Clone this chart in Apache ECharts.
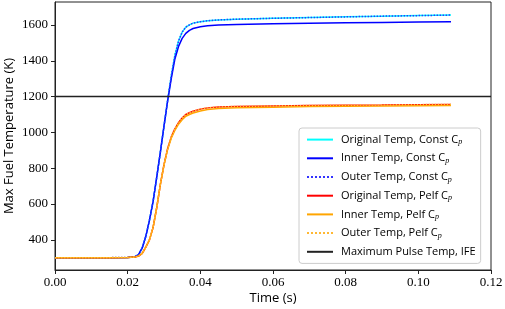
<!DOCTYPE html>
<html>
<head>
<meta charset="utf-8">
<script src="https://cdn.jsdelivr.net/npm/echarts@6/dist/echarts.min.js"></script>
<style>html,body{margin:0;padding:0;background:#fff}#c{width:505px;height:309px}</style>
</head>
<body>
<div id="c"></div>
<script>
const times = [0, 0.005, 0.01, 0.015, 0.02, 0.022, 0.023, 0.024, 0.025, 0.026, 0.027, 0.028, 0.029, 0.030, 0.031, 0.032, 0.033, 0.034, 0.035, 0.036, 0.037, 0.038, 0.040, 0.042, 0.045, 0.05, 0.06, 0.07, 0.08, 0.09, 0.1, 0.109];
const originalConst = [300, 300, 300, 301, 302, 306, 318, 355, 420, 510, 615, 750, 890, 1035, 1180, 1315, 1430, 1510, 1560, 1588, 1600, 1610, 1618, 1623, 1628, 1632, 1637, 1641, 1645, 1649, 1652, 1655];
const innerConst    = [300, 300, 300, 301, 302, 306, 318, 355, 420, 510, 615, 750, 890, 1035, 1175, 1300, 1410, 1480, 1525, 1553, 1570, 1580, 1590, 1595, 1600, 1603, 1607, 1610, 1612, 1614, 1616, 1618];
const outerConst    = [300, 300, 300, 301, 302, 306, 318, 355, 420, 510, 615, 750, 890, 1035, 1180, 1315, 1430, 1510, 1560, 1588, 1600, 1610, 1618, 1623, 1628, 1632, 1637, 1641, 1645, 1649, 1652, 1655];
const originalPelf  = [300, 300, 300, 301, 302, 304, 310, 325, 360, 400, 470, 580, 710, 820, 910, 975, 1020, 1055, 1080, 1100, 1110, 1118, 1130, 1137, 1142, 1145, 1148, 1150, 1152, 1153, 1155, 1156];
const innerPelf     = [300, 300, 300, 301, 302, 304, 310, 325, 360, 400, 470, 580, 710, 818, 905, 968, 1012, 1046, 1071, 1090, 1100, 1108, 1120, 1128, 1134, 1138, 1141, 1144, 1146, 1147, 1149, 1150];
const outerPelf     = [300, 300, 300, 301, 302, 304, 310, 325, 360, 400, 470, 580, 710, 820, 910, 975, 1020, 1055, 1080, 1100, 1110, 1118, 1130, 1137, 1142, 1145, 1148, 1150, 1152, 1153, 1155, 1156];
const limitTimes = [0, 0.12];
const limitTemps = [1200, 1200];
const yTicks = [400, 600, 800, 1000, 1200, 1400, 1600];

const names = [
  'Original Temp, Const C',
  'Inner Temp, Const C',
  'Outer Temp, Const C',
  'Original Temp, Pelf C',
  'Inner Temp, Pelf C',
  'Outer Temp, Pelf C',
  'Maximum Pulse Temp, IFE'
];

function pairs(xs, ys) { return xs.map((x, i) => [x, ys[i]]); }
function mk(name, xs, ys, color, type) {
  return {
    name, type: 'line', data: pairs(xs, ys), showSymbol: false, symbol: 'none',
    lineStyle: { color, width: 1.5, type: type || 'solid' }, itemStyle: { color },
    animation: false, z: 2
  };
}

const chart = echarts.init(document.getElementById('c'), null, { renderer: 'canvas' });
const serif = 'Liberation Serif';
const sans = 'Open Sans';
chart.setOption({
  animation: false,
  grid: { left: 55, right: 14, top: 2, bottom: 39, outerBoundsMode: 'none', containLabel: false, show: true, borderColor: '#222', borderWidth: 1, backgroundColor: 'transparent' },
  xAxis: {
    type: 'value', min: 0, max: 0.12, interval: 0.02,
    name: 'Time (s)', nameLocation: 'middle', nameGap: 22, nameMoveOverlap: false,
    nameTextStyle: { fontFamily: sans, fontSize: 13, color: '#000' },
    axisLine: { show: true, onZero: false, lineStyle: { color: '#222', width: 1 } },
    axisTick: { show: true, inside: false, length: 4, lineStyle: { color: '#222' } },
    axisLabel: { fontFamily: serif, fontSize: 13, color: '#000', margin: 6, formatter: v => v.toFixed(2) },
    splitLine: { show: false }
  },
  yAxis: {
    type: 'value', min: 232, max: 1728,
    name: 'Max Fuel Temperature (K)', nameLocation: 'middle', nameGap: 39, nameMoveOverlap: false,
    nameTextStyle: { fontFamily: sans, fontSize: 13, color: '#000' },
    axisLine: { show: true, onZero: false, lineStyle: { color: '#222', width: 1 } },
    axisTick: { show: true, inside: false, length: 4, lineStyle: { color: '#222' }, customValues: yTicks },
    axisLabel: { fontFamily: serif, fontSize: 13, color: '#000', margin: 7, customValues: yTicks, formatter: v => String(v) },
    splitLine: { show: false }
  },
  legend: {
    orient: 'vertical', left: 299, top: 128,
    backgroundColor: '#fff', borderColor: '#ccc', borderWidth: 1, borderRadius: 3,
    padding: [6, 5, 6, 7], itemWidth: 26, itemHeight: 14, itemGap: 6.6,
    itemStyle: { opacity: 0 },
    data: names,
    textStyle: {
      fontFamily: sans, fontSize: 11, color: '#000', padding: [0, 0, 0, 3],
      rich: { sub: { fontFamily: serif, fontStyle: 'italic', fontSize: 8, padding: [5, 0, 0, 0], color: '#000' } }
    },
    formatter: n => n.endsWith(' C') ? n + '{sub|p}' : n
  },
  series: [
    mk(names[0], times, originalConst, '#00ffff'),
    mk(names[1], times, innerConst, '#0000ff'),
    mk(names[2], times, outerConst, '#3333ff', 'dotted'),
    mk(names[3], times, originalPelf, '#ff0000'),
    mk(names[4], times, innerPelf, '#ffa500'),
    mk(names[5], times, outerPelf, '#ffb833', 'dotted'),
    mk(names[6], limitTimes, limitTemps, '#222222')
  ]
});
</script>
</body>
</html>
